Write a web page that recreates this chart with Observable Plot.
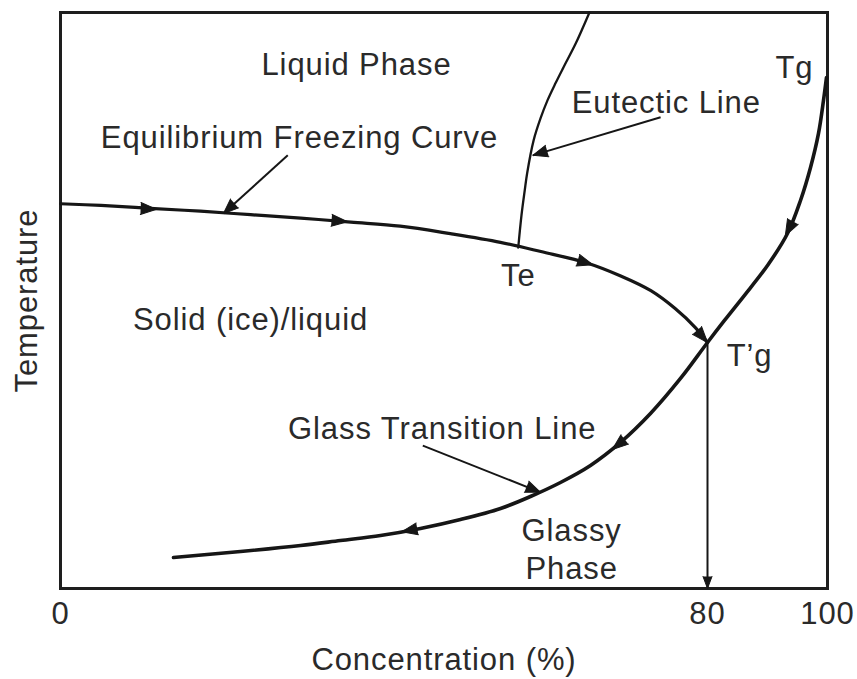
<!DOCTYPE html>
<html><head><meta charset="utf-8">
<script src="https://cdn.jsdelivr.net/npm/d3@7"></script>
<script src="https://cdn.jsdelivr.net/npm/@observablehq/plot@0.6"></script>
<style>body{margin:0;background:#fff}</style>
</head><body><div id="chart"></div>
<script>
// Tick labels
const xTicks = [0, 80, 100];

// Equilibrium freezing curve (concentration %, temperature arbitrary 0-100)
const freezeConc = [0, 5, 11.1, 17.3, 23.5, 29.7, 35.9, 42, 48.2, 54.4, 59.4, 64.9, 69.2, 73, 76, 78.5, 80];
const freezeTemp = [66.8, 66.5, 66, 65.5, 64.9, 64.3, 63.6, 62.9, 61.6, 60.1, 58.5, 56.6, 54.3, 51.7, 48.6, 45.3, 42.7];

// Eutectic line
const eutConc = [56.6, 57.0, 57.4, 57.7, 58.5, 59.35, 60.2, 61.2, 62.2, 63.7, 65.4];
const eutTemp = [59.2, 64.8, 69.1, 72.1, 77.8, 81.6, 84.7, 87.7, 90.5, 94.6, 100];

// Glass transition line (from Tg down through T'g)
const glassConc = [99.83, 99.33, 98.5, 97.17, 95.5, 93.33, 90, 86, 82.83, 80, 76.66, 72.95, 69.24, 65.53, 61.82, 58.11, 54.41, 49.46, 44.51, 39.57, 34.62, 29.68, 22.26, 13.97];
const glassTemp = [88.72, 84.72, 79.0, 73.09, 67.36, 61.63, 56.08, 50.69, 46.53, 42.71, 36.46, 30.38, 25.35, 21.35, 18.4, 15.97, 13.89, 11.98, 10.42, 9.2, 8.33, 7.47, 6.42, 5.38];

// T'g point
const tgPrimeConc = 80, tgPrimeTemp = 42.71;

// Direction arrowheads on the curves
const headConc = [10.9, 34.5, 64.9, 93.6, 69.0, 43.15];
const headTemp = [65.9, 63.8, 56.6, 62.5, 25.0, 10.1];
const headAngle = [93, 95, 107, 208, 231, 259];

// Annotation arrows
const annX1 = [28.1, 74.2, 44.8];
const annY1 = [75.2, 81.8, 24.8];
const annX2 = [20.15, 58.4, 59.35];
const annY2 = [65.1, 75.2, 16.7];
const annAngle = [227.8, 253.4, 111.7];

// Text labels
const labelText = ["Liquid Phase", "Equilibrium Freezing Curve", "Eutectic Line", "Tg", "Te", "T\u2019g", "Solid (ice)/liquid", "Glass Transition Line", "Glassy", "Phase"];
const labelConc = [36.6, 29.55, 74.9, 94.5, 56.6, 87.0, 23.5, 47.2, 63.2, 63.2];
const labelTemp = [89.1, 76.4, 82.6, 88.7, 52.6, 38.7, 44.8, 26.0, 8.3, 1.7];

const freeze = freezeConc.map((c, i) => ({c, t: freezeTemp[i]}));
const eut = eutConc.map((c, i) => ({c, t: eutTemp[i]}));
const glass = glassConc.map((c, i) => ({c, t: glassTemp[i]}));
const heads = headConc.map((c, i) => ({c, t: headTemp[i], a: headAngle[i]}));
const ann = annX1.map((x1, i) => ({x1, y1: annY1[i], x2: annX2[i], y2: annY2[i], a: annAngle[i]}));
const labels = labelText.map((text, i) => ({text, c: labelConc[i], t: labelTemp[i]}));

const ink = "#161616";
const textInk = "#2a2a2a";

const chart = Plot.plot({
  width: 857,
  height: 679,
  marginLeft: 60,
  marginRight: 30,
  marginTop: 12,
  marginBottom: 91,
  style: {fontFamily: "'Liberation Sans', Arial, Helvetica, sans-serif", fontSize: "31px", letterSpacing: "0.9px", background: "#fff", overflow: "visible"},
  x: {type: "linear", domain: [0, 80, 100], range: [60, 707, 827], axis: null},
  y: {domain: [0, 100], axis: null},
  marks: [
    Plot.frame({stroke: "#1e1e1e", strokeWidth: 3}),
    Plot.ruleX([tgPrimeConc], {y1: tgPrimeTemp, y2: 0, stroke: ink, strokeWidth: 2}),
    Plot.line(eut, {x: "c", y: "t", curve: "catmull-rom", stroke: ink, strokeWidth: 2.3}),
    Plot.line(freeze, {x: "c", y: "t", curve: "catmull-rom", stroke: ink, strokeWidth: 3.2}),
    Plot.line(glass, {x: "c", y: "t", curve: "catmull-rom", stroke: ink, strokeWidth: 3.6}),
    Plot.vector(heads, {x: "c", y: "t", rotate: "a", length: 16, r: 6, shape: "spike", anchor: "middle", fill: ink, stroke: ink, strokeWidth: 1}),
    Plot.vector([{c: tgPrimeConc, t: tgPrimeTemp, a: 139}], {x: "c", y: "t", rotate: "a", length: 16, r: 6, shape: "spike", anchor: "end", fill: ink, stroke: ink, strokeWidth: 1}),
    Plot.vector([{c: tgPrimeConc, t: 0, a: 180}], {x: "c", y: "t", rotate: "a", length: 12, r: 4.5, shape: "spike", anchor: "end", fill: ink, stroke: ink, strokeWidth: 1}),
    Plot.link(ann, {x1: "x1", y1: "y1", x2: "x2", y2: "y2", stroke: ink, strokeWidth: 2}),
    Plot.vector(ann, {x: "x2", y: "y2", rotate: "a", length: 15, r: 6, shape: "spike", anchor: "end", fill: ink, stroke: ink, strokeWidth: 1}),
    Plot.text(labels, {x: "c", y: "t", text: "text", textAnchor: "middle", lineAnchor: "bottom", fill: textInk, fontSize: 31}),
    Plot.text(xTicks, {x: d => d, frameAnchor: "bottom", dy: 35, text: d => String(d), textAnchor: "middle", lineAnchor: "bottom", fill: textInk, fontSize: 31}),
    Plot.text(["Concentration (%)"], {frameAnchor: "bottom", dy: 81, textAnchor: "middle", lineAnchor: "bottom", fill: textInk, fontSize: 31}),
    Plot.text(["Temperature"], {frameAnchor: "left", dx: -24, rotate: -90, textAnchor: "middle", lineAnchor: "bottom", fill: textInk, fontSize: 31})
  ]
});
document.getElementById("chart").appendChild(chart);
</script>
</body></html>
